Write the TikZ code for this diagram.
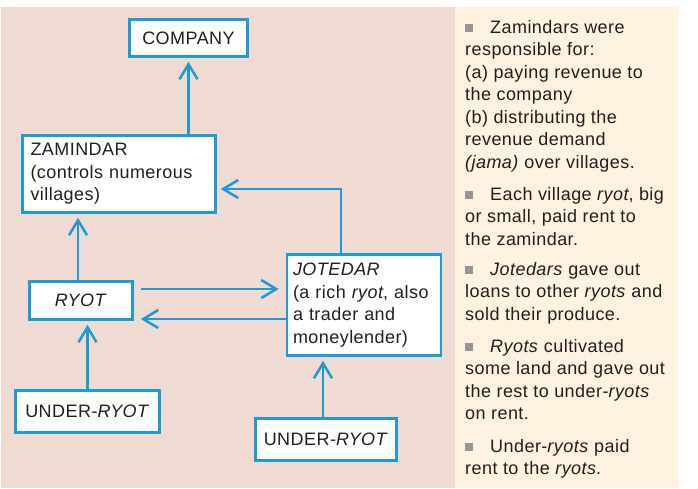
\documentclass[tikz,border=0pt]{standalone}
\usepackage{fontspec}
\setmainfont[LetterSpace=2.5]{Liberation Sans}
\usetikzlibrary{arrows.meta}
\definecolor{flowblue}{HTML}{1E9BD7}
\definecolor{panelpink}{HTML}{EFDBD2}
\definecolor{panelcream}{HTML}{FFF2E0}
\definecolor{inkgray}{HTML}{231F20}
\definecolor{bulletgray}{HTML}{959595}
\newcommand{\sqbullet}{{\color{bulletgray}\raisebox{1.5pt}{\rule{8pt}{8pt}}}\hspace{17pt}}

\begin{document}
\begin{tikzpicture}[x=1pt, y=-1pt,
        every node/.style={font=\fontsize{18}{22.5}\selectfont, text=inkgray},
        box/.style={draw=flowblue, line width=2.6pt, fill=white, inner sep=0pt},
        flow/.style={draw=flowblue, line width=2.5pt, -{Straight Barb[length=15pt,width=18pt]}, shorten >=4pt},
        note/.style={align=left, anchor=base west, inner sep=0pt}]
        \useasboundingbox (0,0) rectangle (698,488);
        \fill[panelpink] (0.5,7) rectangle (455,488);
        \fill[panelcream] (455,7) rectangle (678,488);
        % boxes of the chart
        \node[box, minimum width=118pt, minimum height=37pt] (company) at (188.5,38) {COMPANY};
        \node[box, text width=177pt, inner xsep=8pt, minimum height=77pt, align=left] (zamindar) at (119,174) {ZAMINDAR\\(controls numerous\\villages)};
        \node[box, minimum width=103pt, minimum height=38pt] (ryot) at (81,300.5) {\textit{RYOT}};
        \node[box, text width=142pt, inner xsep=6pt, minimum height=101pt, align=left] (jotedar) at (364,305) {\textit{JOTEDAR}\\(a rich \textit{ryot}, also\\a trader and\\moneylender)};
        \node[box, minimum width=144pt, minimum height=42pt] (underL) at (87.5,411.5) {UNDER-\textit{RYOT}};
        \node[box, minimum width=141pt, minimum height=42pt] (underR) at (326,439.5) {UNDER-\textit{RYOT}};
        % connectors
        \draw[flow] (zamindar.north -| company.south) -- (company.south);
        \draw[flow] ([xshift=-3pt]ryot.north) -- ([xshift=-3pt]ryot.north |- zamindar.south);
        \draw[flow] ([xshift=-23pt]jotedar.north) |- ([yshift=-15pt]zamindar.east);
        \draw[flow, shorten <=7pt, shorten >=7pt] ([yshift=11.5pt]ryot.east) -- ([yshift=11.5pt]ryot.east -| jotedar.west);
        \draw[flow, shorten >=7pt] ([yshift=-18.5pt]ryot.east -| jotedar.west) -- ([yshift=-18.5pt]ryot.east);
        \draw[flow] (underL.north) -- (underL.north |- ryot.south);
        \draw[flow] ([xshift=-3pt]underR.north) -- ([xshift=-3pt]underR.north |- jotedar.south);
        % notes on the right (placed by the baseline of their last line)
        \node[note] (noteA) at (465,168) {\sqbullet Zamindars were\\responsible for:\\(a) paying revenue to\\the company\\(b) distributing the\\revenue demand\\\textit{(jama)} over villages.};
        \node[note] (noteB) at (465,245) {\sqbullet Each village \textit{ryot}, big\\or small, paid rent to\\the zamindar.};
        \node[note] (noteC) at (465,320) {\sqbullet \textit{Jotedars} gave out\\loans to other \textit{ryots} and\\sold their produce.};
        \node[note] (noteD) at (465,419.5) {\sqbullet \textit{Ryots} cultivated\\some land and gave out\\the rest to under-\textit{ryots}\\on rent.};
        \node[note] (noteE) at (465,474.5) {\sqbullet Under-\textit{ryots} paid\\rent to the \textit{ryots}.};
    \end{tikzpicture}
\end{document}
